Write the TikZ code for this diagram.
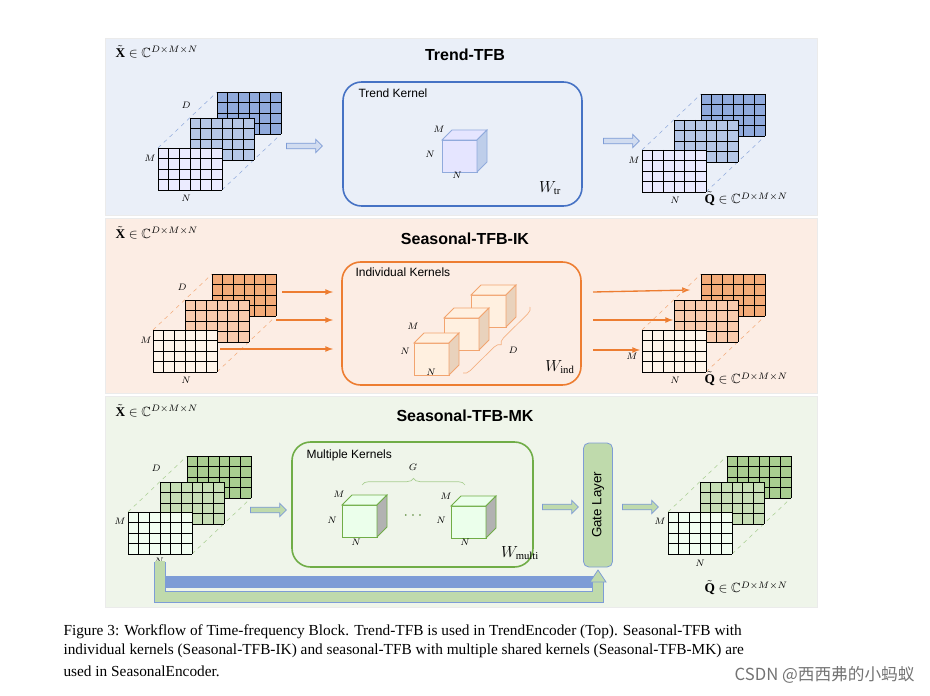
\documentclass[tikz,border=0pt]{standalone}
\usepackage{amssymb}
\usepackage{fontspec}
\setmainfont{Liberation Serif}
\setsansfont{Liberation Sans}
\newfontfamily\cjk{Noto Sans CJK SC}
\usetikzlibrary{shapes.arrows,decorations.pathreplacing,positioning}

\definecolor{bgblue}{RGB}{234,239,248}
\definecolor{bgorange}{RGB}{252,237,228}
\definecolor{bggreen}{RGB}{239,245,234}
\definecolor{eblue}{RGB}{70,114,196}
\definecolor{eorange}{RGB}{237,125,49}
\definecolor{egreen}{RGB}{112,173,71}

\tikzset{every picture/.style={line width=0.75pt},
  panel/.style={draw=black!8,line width=0.5pt},
  title/.style={font=\sffamily\bfseries\large},
  dim/.style={font=\scriptsize\itshape,inner sep=0.75pt},
  tens/.style={font=\normalsize,anchor=west,inner sep=0.75pt},
  kbox/.style={rounded corners=14pt,line width=1.2pt},
  blk/.style={single arrow,minimum height=27pt,minimum width=10pt,single arrow head extend=2.5pt,inner sep=1.5pt,line width=0.6pt},
  captext/.style={anchor=west,inner sep=0pt,font=\fontsize{11.5}{13}\selectfont}}

% one grid layer: lower-left corner x, top y, fill colour
\newcommand{\gridlayer}[3]{%
  \fill[#3] (#1,#2) rectangle ++(64,42);
  \foreach \i in {0,...,6} \draw[line width=0.6pt] ({#1+\i*64/6},#2) -- ++(0,42);
  \foreach \j in {0,...,4} \draw[line width=0.6pt] (#1,{#2+\j*10.5}) -- ++(64,0);}
% stack of three layers, front top-left at (#1,#2)
\newcommand{\gridstack}[5]{%
  \draw[dashed,line width=0.4pt,#5] (#1,#2) -- ++(59,-56) (#1+64,#2+42) -- ++(59,-56);
  \gridlayer{#1+59}{#2-56}{#5}
  \gridlayer{#1+32}{#2-30}{#4}
  \gridlayer{#1}{#2}{#3}}
% kernel cube: x, y, fill, side, edge
\newcommand{\kcube}[5]{%
  \filldraw[fill=#3,draw=#5,line width=0.6pt] (#1,#2) rectangle ++(35,32);
  \filldraw[fill=#3,draw=#5,line width=0.6pt] (#1,#2) -- ++(10,-10) -- ++(35,0) -- ++(-10,10) -- cycle;
  \filldraw[fill=#4,draw=#5,line width=0.6pt] (#1+35,#2) -- ++(10,-10) -- ++(0,32) -- ++(-10,10) -- cycle;}

\begin{document}
\begin{tikzpicture}[x=0.75pt,y=-0.75pt]
\useasboundingbox (0,0) rectangle (930,695);

%Panels
\filldraw[panel,fill=bgblue] (105,38) rectangle (817,215);
\filldraw[panel,fill=bgorange] (105,218) rectangle (817,393);
\filldraw[panel,fill=bggreen] (105,396) rectangle (817,607);

% ---------------- Trend-TFB
\node[title] (t1) at (465,55) {Trend-TFB};
\node[tens] (x1) at (114,52) {$\tilde{\mathbf{X}}\in\mathbb{C}^{D\times M\times N}$};
\gridstack{158}{148}{blue!8}{eblue!40}{eblue!60}
\node[dim] at (186,105) {$D$};
\node[dim] at (150,158) {$M$};
\node[dim] at (186,198) {$N$};
\node[blk,draw=eblue!70,fill=eblue!25] (a1) at (303,146) {};
\filldraw[kbox,draw=eblue,fill=bgblue] (343,82) rectangle (582,206);
\node[anchor=west,font=\sffamily\small,inner sep=0pt] at (358,93) {Trend Kernel};
\kcube{442}{140}{blue!10}{eblue!35}{eblue!60}
\node[dim] at (439,129) {$M$};
\node[dim] at (430,154) {$N$};
\node[dim] at (457,175) {$N$};
\node[font=\large] at (550,188) {$W_{\mathrm{tr}}$};
\node[blk,draw=eblue!70,fill=eblue!25] (b1) at (620,141) {};
\gridstack{642}{150}{blue!8}{eblue!40}{eblue!60}
\node[dim] at (634,160) {$M$};
\node[dim] at (675,200) {$N$};
\node[tens] (q1) at (703,199) {$\tilde{\mathbf{Q}}\in\mathbb{C}^{D\times M\times N}$};

% ---------------- Seasonal-TFB-IK
\node[title] (t2) at (465,239) {Seasonal-TFB-IK};
\node[tens] (x2) at (114,233) {$\tilde{\mathbf{X}}\in\mathbb{C}^{D\times M\times N}$};
\gridstack{153}{330}{orange!8}{eorange!40}{eorange!65}
\node[dim] at (182,287) {$D$};
\node[dim] at (146,340) {$M$};
\node[dim] at (186,380) {$N$};
\filldraw[kbox,draw=eorange,fill=bgorange] (342,262) rectangle (581,385);
\node[anchor=west,font=\sffamily\small,inner sep=0pt] at (355,272) {Individual Kernels};
\kcube{471}{295}{orange!12}{brown!35}{eorange!70}
\kcube{444}{318}{orange!12}{brown!35}{eorange!70}
\kcube{414}{343}{orange!12}{brown!35}{eorange!70}
\node[dim] at (413,326) {$M$};
\node[dim] at (405,351) {$N$};
\node[dim] at (431,372) {$N$};
\draw[decorate,decoration={brace,amplitude=5pt},draw=eorange!60,line width=0.5pt] (530,307) -- (463,373);
\node[dim] at (513,350) {$D$};
\node[font=\large] at (560,367) {$W_{\mathrm{ind}}$};
\coordinate (i1) at (333,292);
\coordinate (i2) at (333,320);
\coordinate (i3) at (333,349);
\coordinate (s1) at (282,292);
\coordinate (s2) at (276,320);
\coordinate (s3) at (220,349);
\coordinate (o1) at (690,290);
\coordinate (o2) at (673,320);
\coordinate (o3) at (640,350);
\coordinate (u1) at (593,292);
\coordinate (u2) at (593,320);
\coordinate (u3) at (593,350);
\foreach \k in {1,2,3} {
  \draw[eorange,line width=1pt,-latex] (s\k) -- (i\k);
  \draw[eorange,line width=1pt,-latex] (u\k) -- (o\k);}
\gridstack{642}{330}{orange!8}{eorange!40}{eorange!65}
\node[dim] at (632,356) {$M$};
\node[dim] at (675,380) {$N$};
\node[tens] (q2) at (703,379) {$\tilde{\mathbf{Q}}\in\mathbb{C}^{D\times M\times N}$};

% ---------------- Seasonal-TFB-MK
\node[title] (t3) at (465,416) {Seasonal-TFB-MK};
\node[tens] (x3) at (114,411) {$\tilde{\mathbf{X}}\in\mathbb{C}^{D\times M\times N}$};
\gridstack{128}{512}{green!5}{egreen!40}{egreen!60}
\node[dim] at (156,468) {$D$};
\node[dim] at (120,521) {$M$};
\node[dim] at (159,561) {$N$};
\node[blk,draw=eblue!70,fill=egreen!45] (a3) at (267,510) {};
\filldraw[kbox,draw=egreen,fill=bggreen] (292,442) rectangle (533,567);
\node[anchor=west,font=\sffamily\small,inner sep=0pt] at (306,455) {Multiple Kernels};
\node[dim] at (413,467) {$G$};
\draw[decorate,decoration={brace,amplitude=5pt},draw=egreen!60,line width=0.5pt] (362,485) -- (465,485);
\kcube{342}{505}{green!8}{black!30}{egreen}
\kcube{451}{506}{green!8}{black!30}{egreen}
\node[dim] at (339,494) {$M$};
\node[dim] at (332,520) {$N$};
\node[dim] at (356,542) {$N$};
\node[dim] at (446,496) {$M$};
\node[dim] at (441,520) {$N$};
\node[dim] at (465,542) {$N$};
\node[font=\large,egreen!80!black] at (413,516) {$\cdots$};
\node[font=\large] at (520,553) {$W_{\mathrm{multi}}$};
\node[blk,draw=eblue!70,fill=egreen!45] (m3) at (559,507) {};
\node[draw=eblue!70,fill=egreen!45,rounded corners=4pt,minimum width=21.75pt,minimum height=93pt,line width=0.6pt,inner sep=0pt] (gate) at (598,505) {};
\node[font=\sffamily,rotate=90] at (gate.center) {Gate Layer};
\node[blk,draw=eblue!70,fill=egreen!45] (b3) at (639,507) {};
\gridstack{668}{512}{green!5}{egreen!40}{egreen!60}
\node[dim] at (660,521) {$M$};
\node[dim] at (700,563) {$N$};
\node[tens] (q3) at (703,588) {$\tilde{\mathbf{Q}}\in\mathbb{C}^{D\times M\times N}$};
% residual path into the gate
\coordinate (r0) at (160,562);
\coordinate (r1) at (598,582);
\coordinate (r2) at (160,561);
\coordinate (r3) at (598,581);
\draw[eblue!70,line width=8.6pt] (r0) |- (r1) -- (r1);
\draw[eblue!70,line width=8.6pt] (r0) -- (160,597) -- (598,597) -- (r1);
\draw[egreen!45,line width=7pt] (r2) -- (160,597) -- (598,597) -- (r3);
\filldraw[draw=eblue!70,fill=egreen!45,line width=0.6pt] (590,582) -- (598,570) -- (606,582) -- cycle;

% ---------------- caption
\node[captext] (c1) at (63,632) {Figure 3: Workflow of Time-frequency Block. Trend-TFB is used in TrendEncoder (Top). Seasonal-TFB with};
\node[captext] (c2) at (63,651) {individual kernels (Seasonal-TFB-IK) and seasonal-TFB with multiple shared kernels (Seasonal-TFB-MK) are};
\node[captext] (c3) at (63,671) {used in SeasonalEncoder.};
\node[anchor=east,inner sep=0pt,font=\cjk\fontsize{12.5}{14}\selectfont,black!55] (wm) at (915,675) {CSDN @西西弗的小蚂蚁};
\end{tikzpicture}
\end{document}
